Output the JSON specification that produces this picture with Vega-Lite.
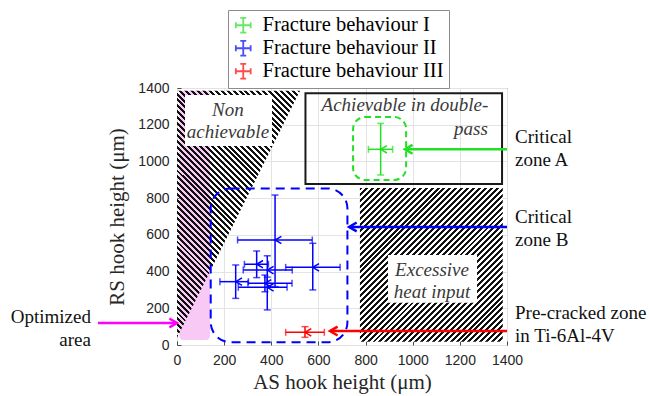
{
  "$schema": "https://vega.github.io/schema/vega-lite/v6.json",
  "width": 330,
  "height": 257,
  "autosize": {"type": "none"},
  "padding": {"left": 177, "top": 88, "right": 142, "bottom": 51},
  "background": "white",
  "config": {
    "view": {"stroke": "#4a4a4a", "strokeWidth": 1},
    "axis": {
      "labelFont": "Liberation Sans",
      "labelFontSize": 14,
      "labelColor": "#262626",
      "labelOverlap": false,
      "labelFlush": false,
      "labelBound": false,
      "labelSeparation": 0,
      "format": "d",
      "titleFont": "Liberation Serif",
      "titleFontSize": 21,
      "titleFontWeight": "normal",
      "titleColor": "#262626",
      "grid": true,
      "gridColor": "#e3e3e3",
      "domain": false,
      "tickColor": "#4a4a4a",
      "tickSize": -4,
      "labelPadding": 12
    },
    "axisY": {"labelOverlap": false, "labelFlush": false},
    "axisLeft": {"labelOverlap": false, "labelFlush": false},
    "axisQuantitative": {"labelOverlap": false},
    "legend": {
      "orient": "none",
      "legendX": 51,
      "legendY": -78,
      "title": null,
      "fillColor": "white",
      "strokeColor": "#8c8c8c",
      "padding": 5,
      "rowPadding": 0,
      "labelFont": "Liberation Serif",
      "labelFontSize": 20.5,
      "labelColor": "#000000",
      "labelLimit": 0,
      "labelOffset": 9,
      "symbolType": "M-1,0L1,0M0,-1L0,1M-1,-0.4L-1,0.4M1,-0.4L1,0.4M-0.4,-1L0.4,-1M-0.4,1L0.4,1",
      "symbolSize": 220,
      "symbolStrokeWidth": 1.8
    },
    "text": {"font": "Liberation Serif"}
  },
  "datasets": {
    "pts": [
      {"b": "Fracture behaviour I", "x": 864, "y": 1066, "xlo": 812, "xhi": 915, "ylo": 926, "yhi": 1207},
      {"b": "Fracture behaviour II", "x": 416, "y": 572, "xlo": 257, "xhi": 574, "ylo": 318, "yhi": 817},
      {"b": "Fracture behaviour II", "x": 338, "y": 440, "xlo": 286, "xhi": 388, "ylo": 367, "yhi": 512},
      {"b": "Fracture behaviour II", "x": 383, "y": 408, "xlo": 281, "xhi": 489, "ylo": 336, "yhi": 486},
      {"b": "Fracture behaviour II", "x": 576, "y": 423, "xlo": 461, "xhi": 692, "ylo": 300, "yhi": 554},
      {"b": "Fracture behaviour II", "x": 249, "y": 345, "xlo": 182, "xhi": 303, "ylo": 254, "yhi": 436},
      {"b": "Fracture behaviour II", "x": 373, "y": 336, "xlo": 301, "xhi": 488, "ylo": 290, "yhi": 381},
      {"b": "Fracture behaviour II", "x": 383, "y": 314, "xlo": 260, "xhi": 467, "ylo": 191, "yhi": 370},
      {"b": "Fracture behaviour III", "x": 543, "y": 69, "xlo": 461, "xhi": 625, "ylo": 42, "yhi": 100}
    ],
    "regions": [
      {"r": "opt", "x": 10, "x2": 140, "y": 27, "y2": 1385},
      {"r": "heat", "x": 776, "x2": 1382, "y": 18, "y2": 855},
      {"r": "label", "x": 34, "x2": 403, "y": 1084, "y2": 1362},
      {"r": "label", "x": 895, "x2": 1273, "y": 230, "y2": 490},
      {"r": "dbl", "x": 545, "x2": 1379, "y": 877, "y2": 1372},
      {"r": "ga", "x": 747, "x2": 972, "y": 899, "y2": 1242},
      {"r": "gb", "x": 143, "x2": 723, "y": 15, "y2": 853}
    ],
    "tri": [
      {"x": 0, "y": 40, "y2": 1385},
      {"x": 522, "y": 1385, "y2": 1385}
    ],
    "arrows": [
      {"z": "A", "x": 1400, "xt": 967, "y": 1066},
      {"z": "B", "x": 1400, "xt": 730, "y": 643},
      {"z": "C", "x": 1400, "xt": 649, "y": 76},
      {"z": "O", "x": -335, "xt": 0, "y": 120}
    ],
    "texts": [
      {"k": "L", "t": "Critical\nzone A", "x": 1434, "y": 1133},
      {"k": "L", "t": "Critical\nzone B", "x": 1434, "y": 697},
      {"k": "L", "t": "Pre-cracked zone\nin Ti-6Al-4V", "x": 1434, "y": 174},
      {"k": "R", "t": "Optimized\narea", "x": -365, "y": 153},
      {"k": "I", "t": "Non\nachievable", "x": 216, "y": 1280},
      {"k": "I", "t": "Excessive\nheat input", "x": 1082, "y": 409},
      {"k": "I", "t": "Achievable in double-", "x": 967, "y": 1307},
      {"k": "IR", "t": "pass", "x": 1319, "y": 1177}
    ]
  },
  "layer": [
    {
      "data": {"name": "regions"},
      "transform": [{"filter": "datum.r == 'opt'"}],
      "mark": {"type": "rect", "color": "#f7c9f4", "cornerRadius": 4},
      "encoding": {
        "x": {"field": "x", "type": "quantitative", "title": "AS hook height (μm)",
              "scale": {"domain": [0, 1400], "nice": false, "zero": false},
              "axis": {"values": [0, 200, 400, 600, 800, 1000, 1200, 1400], "titlePadding": 4, "labelOverlap": false, "labelFlush": false}},
        "x2": {"field": "x2"},
        "y": {"field": "y", "type": "quantitative", "title": "RS hook height (μm)",
              "scale": {"domain": [0, 1400], "nice": false, "zero": false},
              "axis": {"values": [0, 200, 400, 600, 800, 1000, 1200, 1400], "tickCount": 8, "titlePadding": 10, "labelOverlap": false, "labelFlush": false, "labelSeparation": 0}},
        "y2": {"field": "y2"}
      }
    },
    {
      "data": {"name": "tri"},
      "mark": {
        "type": "area",
        "fill": {
          "gradient": "linear", "x1": 0, "y1": 1, "x2": 0.598, "y2": -0.2,
          "stops": [
            {"offset":0,"color":"#111"},{"offset":0.008,"color":"#111"},{"offset":0.008,"color":"transparent"},{"offset":0.016,"color":"transparent"},
            {"offset":0.016,"color":"#111"},{"offset":0.024,"color":"#111"},{"offset":0.024,"color":"transparent"},{"offset":0.032,"color":"transparent"},
            {"offset":0.032,"color":"#111"},{"offset":0.04,"color":"#111"},{"offset":0.04,"color":"transparent"},{"offset":0.048,"color":"transparent"},
            {"offset":0.048,"color":"#111"},{"offset":0.056,"color":"#111"},{"offset":0.056,"color":"transparent"},{"offset":0.064,"color":"transparent"},
            {"offset":0.064,"color":"#111"},{"offset":0.072,"color":"#111"},{"offset":0.072,"color":"transparent"},{"offset":0.08,"color":"transparent"},
            {"offset":0.08,"color":"#111"},{"offset":0.088,"color":"#111"},{"offset":0.088,"color":"transparent"},{"offset":0.096,"color":"transparent"},
            {"offset":0.096,"color":"#111"},{"offset":0.104,"color":"#111"},{"offset":0.104,"color":"transparent"},{"offset":0.112,"color":"transparent"},
            {"offset":0.112,"color":"#111"},{"offset":0.12,"color":"#111"},{"offset":0.12,"color":"transparent"},{"offset":0.128,"color":"transparent"},
            {"offset":0.128,"color":"#111"},{"offset":0.136,"color":"#111"},{"offset":0.136,"color":"transparent"},{"offset":0.144,"color":"transparent"},
            {"offset":0.144,"color":"#111"},{"offset":0.152,"color":"#111"},{"offset":0.152,"color":"transparent"},{"offset":0.16,"color":"transparent"},
            {"offset":0.16,"color":"#111"},{"offset":0.168,"color":"#111"},{"offset":0.168,"color":"transparent"},{"offset":0.176,"color":"transparent"},
            {"offset":0.176,"color":"#111"},{"offset":0.184,"color":"#111"},{"offset":0.184,"color":"transparent"},{"offset":0.192,"color":"transparent"},
            {"offset":0.192,"color":"#111"},{"offset":0.2,"color":"#111"},{"offset":0.2,"color":"transparent"},{"offset":0.208,"color":"transparent"},
            {"offset":0.208,"color":"#111"},{"offset":0.216,"color":"#111"},{"offset":0.216,"color":"transparent"},{"offset":0.224,"color":"transparent"},
            {"offset":0.224,"color":"#111"},{"offset":0.232,"color":"#111"},{"offset":0.232,"color":"transparent"},{"offset":0.24,"color":"transparent"},
            {"offset":0.24,"color":"#111"},{"offset":0.248,"color":"#111"},{"offset":0.248,"color":"transparent"},{"offset":0.256,"color":"transparent"},
            {"offset":0.256,"color":"#111"},{"offset":0.264,"color":"#111"},{"offset":0.264,"color":"transparent"},{"offset":0.272,"color":"transparent"},
            {"offset":0.272,"color":"#111"},{"offset":0.28,"color":"#111"},{"offset":0.28,"color":"transparent"},{"offset":0.288,"color":"transparent"},
            {"offset":0.288,"color":"#111"},{"offset":0.296,"color":"#111"},{"offset":0.296,"color":"transparent"},{"offset":0.304,"color":"transparent"},
            {"offset":0.304,"color":"#111"},{"offset":0.312,"color":"#111"},{"offset":0.312,"color":"transparent"},{"offset":0.32,"color":"transparent"},
            {"offset":0.32,"color":"#111"},{"offset":0.328,"color":"#111"},{"offset":0.328,"color":"transparent"},{"offset":0.336,"color":"transparent"},
            {"offset":0.336,"color":"#111"},{"offset":0.344,"color":"#111"},{"offset":0.344,"color":"transparent"},{"offset":0.352,"color":"transparent"},
            {"offset":0.352,"color":"#111"},{"offset":0.36,"color":"#111"},{"offset":0.36,"color":"transparent"},{"offset":0.368,"color":"transparent"},
            {"offset":0.368,"color":"#111"},{"offset":0.376,"color":"#111"},{"offset":0.376,"color":"transparent"},{"offset":0.384,"color":"transparent"},
            {"offset":0.384,"color":"#111"},{"offset":0.392,"color":"#111"},{"offset":0.392,"color":"transparent"},{"offset":0.4,"color":"transparent"},
            {"offset":0.4,"color":"#111"},{"offset":0.408,"color":"#111"},{"offset":0.408,"color":"transparent"},{"offset":0.416,"color":"transparent"},
            {"offset":0.416,"color":"#111"},{"offset":0.424,"color":"#111"},{"offset":0.424,"color":"transparent"},{"offset":0.432,"color":"transparent"},
            {"offset":0.432,"color":"#111"},{"offset":0.44,"color":"#111"},{"offset":0.44,"color":"transparent"},{"offset":0.448,"color":"transparent"},
            {"offset":0.448,"color":"#111"},{"offset":0.456,"color":"#111"},{"offset":0.456,"color":"transparent"},{"offset":0.464,"color":"transparent"},
            {"offset":0.464,"color":"#111"},{"offset":0.472,"color":"#111"},{"offset":0.472,"color":"transparent"},{"offset":0.48,"color":"transparent"},
            {"offset":0.48,"color":"#111"},{"offset":0.488,"color":"#111"},{"offset":0.488,"color":"transparent"},{"offset":0.496,"color":"transparent"},
            {"offset":0.496,"color":"#111"},{"offset":0.504,"color":"#111"},{"offset":0.504,"color":"transparent"},{"offset":0.512,"color":"transparent"},
            {"offset":0.512,"color":"#111"},{"offset":0.52,"color":"#111"},{"offset":0.52,"color":"transparent"},{"offset":0.528,"color":"transparent"},
            {"offset":0.528,"color":"#111"},{"offset":0.536,"color":"#111"},{"offset":0.536,"color":"transparent"},{"offset":0.544,"color":"transparent"},
            {"offset":0.544,"color":"#111"},{"offset":0.552,"color":"#111"},{"offset":0.552,"color":"transparent"},{"offset":0.56,"color":"transparent"},
            {"offset":0.56,"color":"#111"},{"offset":0.568,"color":"#111"},{"offset":0.568,"color":"transparent"},{"offset":0.576,"color":"transparent"},
            {"offset":0.576,"color":"#111"},{"offset":0.584,"color":"#111"},{"offset":0.584,"color":"transparent"},{"offset":0.592,"color":"transparent"},
            {"offset":0.592,"color":"#111"},{"offset":0.6,"color":"#111"},{"offset":0.6,"color":"transparent"},{"offset":0.608,"color":"transparent"},
            {"offset":0.608,"color":"#111"},{"offset":0.616,"color":"#111"},{"offset":0.616,"color":"transparent"},{"offset":0.624,"color":"transparent"},
            {"offset":0.624,"color":"#111"},{"offset":0.632,"color":"#111"},{"offset":0.632,"color":"transparent"},{"offset":0.64,"color":"transparent"},
            {"offset":0.64,"color":"#111"},{"offset":0.648,"color":"#111"},{"offset":0.648,"color":"transparent"},{"offset":0.656,"color":"transparent"},
            {"offset":0.656,"color":"#111"},{"offset":0.664,"color":"#111"},{"offset":0.664,"color":"transparent"},{"offset":0.672,"color":"transparent"},
            {"offset":0.672,"color":"#111"},{"offset":0.68,"color":"#111"},{"offset":0.68,"color":"transparent"},{"offset":0.688,"color":"transparent"},
            {"offset":0.688,"color":"#111"},{"offset":0.696,"color":"#111"},{"offset":0.696,"color":"transparent"},{"offset":0.704,"color":"transparent"},
            {"offset":0.704,"color":"#111"},{"offset":0.712,"color":"#111"},{"offset":0.712,"color":"transparent"},{"offset":0.72,"color":"transparent"},
            {"offset":0.72,"color":"#111"},{"offset":0.728,"color":"#111"},{"offset":0.728,"color":"transparent"},{"offset":0.736,"color":"transparent"},
            {"offset":0.736,"color":"#111"},{"offset":0.744,"color":"#111"},{"offset":0.744,"color":"transparent"},{"offset":0.752,"color":"transparent"},
            {"offset":0.752,"color":"#111"},{"offset":0.76,"color":"#111"},{"offset":0.76,"color":"transparent"},{"offset":0.768,"color":"transparent"},
            {"offset":0.768,"color":"#111"},{"offset":0.776,"color":"#111"},{"offset":0.776,"color":"transparent"},{"offset":0.784,"color":"transparent"},
            {"offset":0.784,"color":"#111"},{"offset":0.792,"color":"#111"},{"offset":0.792,"color":"transparent"},{"offset":0.8,"color":"transparent"},
            {"offset":0.8,"color":"#111"},{"offset":0.808,"color":"#111"},{"offset":0.808,"color":"transparent"},{"offset":0.816,"color":"transparent"},
            {"offset":0.816,"color":"#111"},{"offset":0.824,"color":"#111"},{"offset":0.824,"color":"transparent"},{"offset":0.832,"color":"transparent"},
            {"offset":0.832,"color":"#111"},{"offset":0.84,"color":"#111"},{"offset":0.84,"color":"transparent"},{"offset":0.848,"color":"transparent"},
            {"offset":0.848,"color":"#111"},{"offset":0.856,"color":"#111"},{"offset":0.856,"color":"transparent"},{"offset":0.864,"color":"transparent"},
            {"offset":0.864,"color":"#111"},{"offset":0.872,"color":"#111"},{"offset":0.872,"color":"transparent"},{"offset":0.88,"color":"transparent"},
            {"offset":0.88,"color":"#111"},{"offset":0.888,"color":"#111"},{"offset":0.888,"color":"transparent"},{"offset":0.896,"color":"transparent"},
            {"offset":0.896,"color":"#111"},{"offset":0.904,"color":"#111"},{"offset":0.904,"color":"transparent"},{"offset":0.912,"color":"transparent"},
            {"offset":0.912,"color":"#111"},{"offset":0.92,"color":"#111"},{"offset":0.92,"color":"transparent"},{"offset":0.928,"color":"transparent"},
            {"offset":0.928,"color":"#111"},{"offset":0.936,"color":"#111"},{"offset":0.936,"color":"transparent"},{"offset":0.944,"color":"transparent"},
            {"offset":0.944,"color":"#111"},{"offset":0.952,"color":"#111"},{"offset":0.952,"color":"transparent"},{"offset":0.96,"color":"transparent"},
            {"offset":0.96,"color":"#111"},{"offset":0.968,"color":"#111"},{"offset":0.968,"color":"transparent"},{"offset":0.976,"color":"transparent"},
            {"offset":0.976,"color":"#111"},{"offset":0.984,"color":"#111"},{"offset":0.984,"color":"transparent"},{"offset":0.992,"color":"transparent"},
            {"offset":0.992,"color":"#111"},{"offset":1,"color":"#111"}
          ]
        }
      },
      "encoding": {
        "x": {"field": "x", "type": "quantitative"},
        "y": {"field": "y", "type": "quantitative"},
        "y2": {"field": "y2"}
      }
    },
    {
      "data": {"name": "regions"},
      "transform": [{"filter": "datum.r == 'heat'"}],
      "mark": {
        "type": "rect",
        "fill": {
          "gradient": "linear", "x1": 0, "y1": 0, "x2": 1.203, "y2": 1.294,
          "stops": [
            {"offset":0,"color":"#111"},{"offset":0.008,"color":"#111"},{"offset":0.008,"color":"#fff"},{"offset":0.016,"color":"#fff"},
            {"offset":0.016,"color":"#111"},{"offset":0.024,"color":"#111"},{"offset":0.024,"color":"#fff"},{"offset":0.032,"color":"#fff"},
            {"offset":0.032,"color":"#111"},{"offset":0.04,"color":"#111"},{"offset":0.04,"color":"#fff"},{"offset":0.048,"color":"#fff"},
            {"offset":0.048,"color":"#111"},{"offset":0.056,"color":"#111"},{"offset":0.056,"color":"#fff"},{"offset":0.064,"color":"#fff"},
            {"offset":0.064,"color":"#111"},{"offset":0.072,"color":"#111"},{"offset":0.072,"color":"#fff"},{"offset":0.08,"color":"#fff"},
            {"offset":0.08,"color":"#111"},{"offset":0.088,"color":"#111"},{"offset":0.088,"color":"#fff"},{"offset":0.096,"color":"#fff"},
            {"offset":0.096,"color":"#111"},{"offset":0.104,"color":"#111"},{"offset":0.104,"color":"#fff"},{"offset":0.112,"color":"#fff"},
            {"offset":0.112,"color":"#111"},{"offset":0.12,"color":"#111"},{"offset":0.12,"color":"#fff"},{"offset":0.128,"color":"#fff"},
            {"offset":0.128,"color":"#111"},{"offset":0.136,"color":"#111"},{"offset":0.136,"color":"#fff"},{"offset":0.144,"color":"#fff"},
            {"offset":0.144,"color":"#111"},{"offset":0.152,"color":"#111"},{"offset":0.152,"color":"#fff"},{"offset":0.16,"color":"#fff"},
            {"offset":0.16,"color":"#111"},{"offset":0.168,"color":"#111"},{"offset":0.168,"color":"#fff"},{"offset":0.176,"color":"#fff"},
            {"offset":0.176,"color":"#111"},{"offset":0.184,"color":"#111"},{"offset":0.184,"color":"#fff"},{"offset":0.192,"color":"#fff"},
            {"offset":0.192,"color":"#111"},{"offset":0.2,"color":"#111"},{"offset":0.2,"color":"#fff"},{"offset":0.208,"color":"#fff"},
            {"offset":0.208,"color":"#111"},{"offset":0.216,"color":"#111"},{"offset":0.216,"color":"#fff"},{"offset":0.224,"color":"#fff"},
            {"offset":0.224,"color":"#111"},{"offset":0.232,"color":"#111"},{"offset":0.232,"color":"#fff"},{"offset":0.24,"color":"#fff"},
            {"offset":0.24,"color":"#111"},{"offset":0.248,"color":"#111"},{"offset":0.248,"color":"#fff"},{"offset":0.256,"color":"#fff"},
            {"offset":0.256,"color":"#111"},{"offset":0.264,"color":"#111"},{"offset":0.264,"color":"#fff"},{"offset":0.272,"color":"#fff"},
            {"offset":0.272,"color":"#111"},{"offset":0.28,"color":"#111"},{"offset":0.28,"color":"#fff"},{"offset":0.288,"color":"#fff"},
            {"offset":0.288,"color":"#111"},{"offset":0.296,"color":"#111"},{"offset":0.296,"color":"#fff"},{"offset":0.304,"color":"#fff"},
            {"offset":0.304,"color":"#111"},{"offset":0.312,"color":"#111"},{"offset":0.312,"color":"#fff"},{"offset":0.32,"color":"#fff"},
            {"offset":0.32,"color":"#111"},{"offset":0.328,"color":"#111"},{"offset":0.328,"color":"#fff"},{"offset":0.336,"color":"#fff"},
            {"offset":0.336,"color":"#111"},{"offset":0.344,"color":"#111"},{"offset":0.344,"color":"#fff"},{"offset":0.352,"color":"#fff"},
            {"offset":0.352,"color":"#111"},{"offset":0.36,"color":"#111"},{"offset":0.36,"color":"#fff"},{"offset":0.368,"color":"#fff"},
            {"offset":0.368,"color":"#111"},{"offset":0.376,"color":"#111"},{"offset":0.376,"color":"#fff"},{"offset":0.384,"color":"#fff"},
            {"offset":0.384,"color":"#111"},{"offset":0.392,"color":"#111"},{"offset":0.392,"color":"#fff"},{"offset":0.4,"color":"#fff"},
            {"offset":0.4,"color":"#111"},{"offset":0.408,"color":"#111"},{"offset":0.408,"color":"#fff"},{"offset":0.416,"color":"#fff"},
            {"offset":0.416,"color":"#111"},{"offset":0.424,"color":"#111"},{"offset":0.424,"color":"#fff"},{"offset":0.432,"color":"#fff"},
            {"offset":0.432,"color":"#111"},{"offset":0.44,"color":"#111"},{"offset":0.44,"color":"#fff"},{"offset":0.448,"color":"#fff"},
            {"offset":0.448,"color":"#111"},{"offset":0.456,"color":"#111"},{"offset":0.456,"color":"#fff"},{"offset":0.464,"color":"#fff"},
            {"offset":0.464,"color":"#111"},{"offset":0.472,"color":"#111"},{"offset":0.472,"color":"#fff"},{"offset":0.48,"color":"#fff"},
            {"offset":0.48,"color":"#111"},{"offset":0.488,"color":"#111"},{"offset":0.488,"color":"#fff"},{"offset":0.496,"color":"#fff"},
            {"offset":0.496,"color":"#111"},{"offset":0.504,"color":"#111"},{"offset":0.504,"color":"#fff"},{"offset":0.512,"color":"#fff"},
            {"offset":0.512,"color":"#111"},{"offset":0.52,"color":"#111"},{"offset":0.52,"color":"#fff"},{"offset":0.528,"color":"#fff"},
            {"offset":0.528,"color":"#111"},{"offset":0.536,"color":"#111"},{"offset":0.536,"color":"#fff"},{"offset":0.544,"color":"#fff"},
            {"offset":0.544,"color":"#111"},{"offset":0.552,"color":"#111"},{"offset":0.552,"color":"#fff"},{"offset":0.56,"color":"#fff"},
            {"offset":0.56,"color":"#111"},{"offset":0.568,"color":"#111"},{"offset":0.568,"color":"#fff"},{"offset":0.576,"color":"#fff"},
            {"offset":0.576,"color":"#111"},{"offset":0.584,"color":"#111"},{"offset":0.584,"color":"#fff"},{"offset":0.592,"color":"#fff"},
            {"offset":0.592,"color":"#111"},{"offset":0.6,"color":"#111"},{"offset":0.6,"color":"#fff"},{"offset":0.608,"color":"#fff"},
            {"offset":0.608,"color":"#111"},{"offset":0.616,"color":"#111"},{"offset":0.616,"color":"#fff"},{"offset":0.624,"color":"#fff"},
            {"offset":0.624,"color":"#111"},{"offset":0.632,"color":"#111"},{"offset":0.632,"color":"#fff"},{"offset":0.64,"color":"#fff"},
            {"offset":0.64,"color":"#111"},{"offset":0.648,"color":"#111"},{"offset":0.648,"color":"#fff"},{"offset":0.656,"color":"#fff"},
            {"offset":0.656,"color":"#111"},{"offset":0.664,"color":"#111"},{"offset":0.664,"color":"#fff"},{"offset":0.672,"color":"#fff"},
            {"offset":0.672,"color":"#111"},{"offset":0.68,"color":"#111"},{"offset":0.68,"color":"#fff"},{"offset":0.688,"color":"#fff"},
            {"offset":0.688,"color":"#111"},{"offset":0.696,"color":"#111"},{"offset":0.696,"color":"#fff"},{"offset":0.704,"color":"#fff"},
            {"offset":0.704,"color":"#111"},{"offset":0.712,"color":"#111"},{"offset":0.712,"color":"#fff"},{"offset":0.72,"color":"#fff"},
            {"offset":0.72,"color":"#111"},{"offset":0.728,"color":"#111"},{"offset":0.728,"color":"#fff"},{"offset":0.736,"color":"#fff"},
            {"offset":0.736,"color":"#111"},{"offset":0.744,"color":"#111"},{"offset":0.744,"color":"#fff"},{"offset":0.752,"color":"#fff"},
            {"offset":0.752,"color":"#111"},{"offset":0.76,"color":"#111"},{"offset":0.76,"color":"#fff"},{"offset":0.768,"color":"#fff"},
            {"offset":0.768,"color":"#111"},{"offset":0.776,"color":"#111"},{"offset":0.776,"color":"#fff"},{"offset":0.784,"color":"#fff"},
            {"offset":0.784,"color":"#111"},{"offset":0.792,"color":"#111"},{"offset":0.792,"color":"#fff"},{"offset":0.8,"color":"#fff"}
          ]
        }
      },
      "encoding": {
        "x": {"field": "x", "type": "quantitative"},
        "x2": {"field": "x2"},
        "y": {"field": "y", "type": "quantitative"},
        "y2": {"field": "y2"}
      }
    },
    {
      "data": {"name": "regions"},
      "transform": [{"filter": "datum.r == 'label'"}],
      "mark": {"type": "rect", "color": "white"},
      "encoding": {
        "x": {"field": "x", "type": "quantitative"},
        "x2": {"field": "x2"},
        "y": {"field": "y", "type": "quantitative"},
        "y2": {"field": "y2"}
      }
    },
    {
      "data": {"name": "regions"},
      "transform": [{"filter": "datum.r == 'dbl'"}],
      "mark": {"type": "rect", "filled": false, "color": "#1a1a1a", "strokeWidth": 2},
      "encoding": {
        "x": {"field": "x", "type": "quantitative"},
        "x2": {"field": "x2"},
        "y": {"field": "y", "type": "quantitative"},
        "y2": {"field": "y2"}
      }
    },
    {
      "data": {"name": "regions"},
      "transform": [{"filter": "datum.r == 'ga'"}],
      "mark": {"type": "rect", "filled": false, "color": "#22e022", "strokeWidth": 2, "strokeDash": [6, 4], "cornerRadius": 12},
      "encoding": {
        "x": {"field": "x", "type": "quantitative"},
        "x2": {"field": "x2"},
        "y": {"field": "y", "type": "quantitative"},
        "y2": {"field": "y2"}
      }
    },
    {
      "data": {"name": "regions"},
      "transform": [{"filter": "datum.r == 'gb'"}],
      "mark": {"type": "rect", "filled": false, "color": "#0000ff", "strokeWidth": 2, "strokeDash": [9, 6], "cornerRadius": 20},
      "encoding": {
        "x": {"field": "x", "type": "quantitative"},
        "x2": {"field": "x2"},
        "y": {"field": "y", "type": "quantitative"},
        "y2": {"field": "y2"}
      }
    },
    {
      "data": {"name": "arrows"},
      "mark": {"type": "rule", "strokeWidth": 2.5},
      "encoding": {
        "x": {"field": "x", "type": "quantitative"},
        "x2": {"field": "xt"},
        "y": {"field": "y", "type": "quantitative"},
        "stroke": {"field": "z", "type": "nominal", "legend": null,
                   "scale": {"domain": ["A", "B", "C", "O"], "range": ["#22e022", "#0000ff", "#ff0000", "#ff00ff"]}}
      }
    },
    {
      "data": {"name": "arrows"},
      "mark": {"type": "point", "filled": false, "strokeWidth": 2.5, "size": 80, "opacity": 1},
      "encoding": {
        "x": {"field": "xt", "type": "quantitative"},
        "y": {"field": "y", "type": "quantitative"},
        "shape": {"field": "z", "type": "nominal", "legend": null,
                  "scale": {"domain": ["A", "B", "C", "O"], "range": ["M1.7,-1L0,0L1.7,1", "M1.7,-1L0,0L1.7,1", "M1.7,-1L0,0L1.7,1", "M-1.7,-1L0,0L-1.7,1"]}},
        "stroke": {"field": "z", "type": "nominal", "legend": null,
                   "scale": {"domain": ["A", "B", "C", "O"], "range": ["#22e022", "#0000ff", "#ff0000", "#ff00ff"]}}
      }
    },
    {
      "data": {"name": "pts"},
      "mark": {"type": "rule", "strokeWidth": 1.5},
      "encoding": {
        "x": {"field": "x", "type": "quantitative"},
        "y": {"field": "ylo", "type": "quantitative"},
        "y2": {"field": "yhi"},
        "color": {"field": "b", "type": "nominal",
                  "scale": {"domain": ["Fracture behaviour I", "Fracture behaviour II", "Fracture behaviour III"], "range": ["#22e022", "#0000ff", "#ff0000"]}}
      }
    },
    {
      "data": {"name": "pts"},
      "mark": {"type": "rule", "strokeWidth": 1.5},
      "encoding": {
        "x": {"field": "xlo", "type": "quantitative"},
        "x2": {"field": "xhi"},
        "y": {"field": "y", "type": "quantitative"},
        "color": {"field": "b", "type": "nominal"}
      }
    },
    {
      "data": {"name": "pts"},
      "transform": [{"fold": ["xlo", "xhi"], "as": ["end", "xc"]}],
      "mark": {"type": "tick", "orient": "vertical", "size": 7, "thickness": 1.5},
      "encoding": {
        "x": {"field": "xc", "type": "quantitative"},
        "y": {"field": "y", "type": "quantitative"},
        "color": {"field": "b", "type": "nominal"}
      }
    },
    {
      "data": {"name": "pts"},
      "transform": [{"fold": ["ylo", "yhi"], "as": ["end", "yc"]}],
      "mark": {"type": "tick", "orient": "horizontal", "size": 7, "thickness": 1.5},
      "encoding": {
        "x": {"field": "x", "type": "quantitative"},
        "y": {"field": "yc", "type": "quantitative"},
        "color": {"field": "b", "type": "nominal"}
      }
    },
    {
      "data": {"name": "pts"},
      "mark": {"type": "point", "filled": false, "strokeWidth": 1.5, "size": 55, "opacity": 1},
      "encoding": {
        "x": {"field": "x", "type": "quantitative"},
        "y": {"field": "y", "type": "quantitative"},
        "color": {"field": "b", "type": "nominal"},
        "shape": {"field": "b", "type": "nominal", "legend": null,
                  "scale": {"domain": ["Fracture behaviour I", "Fracture behaviour II", "Fracture behaviour III"], "range": ["circle", "square", "square"]}}
      }
    },
    {
      "data": {"name": "texts"},
      "transform": [{"filter": "datum.k == 'L'"}],
      "mark": {"type": "text", "align": "left", "baseline": "middle", "fontSize": 19, "lineBreak": "\n", "lineHeight": 23, "color": "#111111"},
      "encoding": {
        "x": {"field": "x", "type": "quantitative"},
        "y": {"field": "y", "type": "quantitative"},
        "text": {"field": "t"}
      }
    },
    {
      "data": {"name": "texts"},
      "transform": [{"filter": "datum.k == 'R'"}],
      "mark": {"type": "text", "align": "right", "baseline": "middle", "fontSize": 19, "lineBreak": "\n", "lineHeight": 23, "color": "#111111"},
      "encoding": {
        "x": {"field": "x", "type": "quantitative"},
        "y": {"field": "y", "type": "quantitative"},
        "text": {"field": "t"}
      }
    },
    {
      "data": {"name": "texts"},
      "transform": [{"filter": "datum.k == 'I'"}],
      "mark": {"type": "text", "align": "center", "baseline": "middle", "fontSize": 19, "fontStyle": "italic", "lineBreak": "\n", "lineHeight": 22, "color": "#3a3a3a"},
      "encoding": {
        "x": {"field": "x", "type": "quantitative"},
        "y": {"field": "y", "type": "quantitative"},
        "text": {"field": "t"}
      }
    },
    {
      "data": {"name": "texts"},
      "transform": [{"filter": "datum.k == 'IR'"}],
      "mark": {"type": "text", "align": "right", "baseline": "middle", "fontSize": 19, "fontStyle": "italic", "color": "#3a3a3a"},
      "encoding": {
        "x": {"field": "x", "type": "quantitative"},
        "y": {"field": "y", "type": "quantitative"},
        "text": {"field": "t"}
      }
    }
  ]
}
